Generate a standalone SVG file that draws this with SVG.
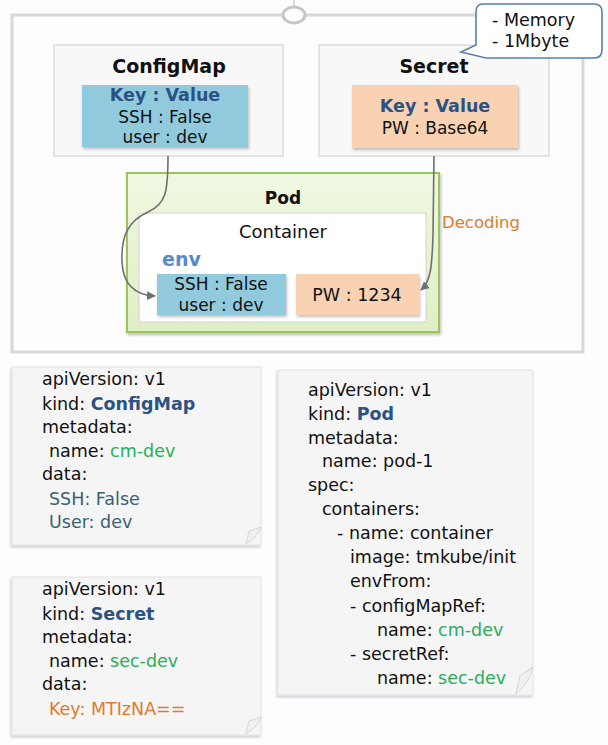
<svg xmlns="http://www.w3.org/2000/svg" width="608" height="745" viewBox="0 0 608 745">
<defs>
<style>
text{font-family:"DejaVu Sans","Noto Sans",sans-serif;fill:#111}
.t{font-size:19px;font-weight:bold;text-anchor:middle}
.kv{font-size:17.5px;font-weight:bold;fill:#2c5283;text-anchor:middle}
.c{font-size:17px;text-anchor:middle}
.y{font-size:17.5px}
.b{font-weight:bold;fill:#2c5283}
.g{fill:#2aae5a}
.tl{fill:#3a6272}
.o{fill:#e07a2c}
.panel{fill:#f8f8f9;stroke:#d4d4d6;stroke-width:1.2}
.blue{fill:#91cadc}
.peach{fill:#f9d1b3}
.note{fill:#f5f5f6;stroke:#e2e2e4;stroke-width:1}
.fold{fill:#f0f0f0;stroke:#cfcfd0;stroke-width:0.8}
.conn{fill:none;stroke:#6f6f6f;stroke-width:1.6;marker-end:url(#ah)}
</style>
<marker id="ah" viewBox="0 0 10 10" refX="9" refY="5" markerWidth="5.5" markerHeight="5.5" orient="auto"><path d="M0,0 L10,5 L0,10 z" fill="#6f6f6f"/></marker>
<filter id="sh" x="-10%" y="-10%" width="130%" height="130%"><feDropShadow dx="1" dy="2" stdDeviation="1.5" flood-color="#000" flood-opacity="0.25"/></filter>
<filter id="nsh" x="-10%" y="-10%" width="130%" height="130%"><feDropShadow dx="-1" dy="2" stdDeviation="1.2" flood-color="#000" flood-opacity="0.18"/></filter>
<linearGradient id="pg" x1="0" y1="0" x2="0" y2="1"><stop offset="0" stop-color="#f0f8e2"/><stop offset="1" stop-color="#dfefc4"/></linearGradient>
</defs>
<rect width="608" height="745" fill="#fdfcfe"/>

<g id="frame">
<line x1="294" y1="0" x2="294" y2="7" stroke="#b8b8b8" stroke-width="1"/>
<rect x="12" y="15" width="571" height="337" fill="none" stroke="#d8d8d8" stroke-width="3"/>
<ellipse cx="294" cy="15" rx="11" ry="8" fill="#fdfcfe" stroke="#c6c6c6" stroke-width="3"/>
</g>

<g id="configmap">
<rect class="panel" x="54" y="45" width="229" height="111"/>
<text class="t" x="169" y="73">ConfigMap</text>
<rect class="blue" x="82" y="85" width="166" height="62" filter="url(#sh)"/>
<text class="kv" x="165" y="101">Key : Value</text>
<text class="c" x="165" y="123">SSH : False</text>
<text class="c" x="165" y="143">user : dev</text>
</g>

<g id="secret">
<rect class="panel" x="319" y="45" width="230" height="111"/>
<text class="t" x="434" y="73">Secret</text>
<rect class="peach" x="352" y="85" width="166" height="63" filter="url(#sh)"/>
<text class="kv" x="435" y="112">Key : Value</text>
<text class="c" x="435" y="134">PW : Base64</text>
</g>

<g id="callout">
<path d="M483,4 H594 Q602,4 602,12 V50 Q602,58 594,58 H486 L461,52 L476,45 V12 Q476,4 483,4 Z" fill="#ffffff" stroke="#5b7fa8" stroke-width="1.6"/>
<text x="492" y="26" style="font-size:17.5px">- Memory</text>
<text x="492" y="47" style="font-size:17.5px">- 1Mbyte</text>
</g>

<g id="pod">
<rect x="127" y="173" width="312" height="159" fill="url(#pg)" stroke="#9cc45c" stroke-width="2" filter="url(#sh)"/>
<text x="283" y="204" style="font-size:17px;font-weight:bold;text-anchor:middle">Pod</text>
<rect x="139" y="213" width="287" height="109" fill="#ffffff" stroke="#d2d2d2" stroke-width="1"/>
<text x="283" y="238" style="font-size:18px;text-anchor:middle">Container</text>
<text x="162" y="266" style="font-size:19px;font-weight:bold;fill:#5a8ac6">env</text>
<rect class="blue" x="157" y="274" width="129" height="41" filter="url(#sh)"/>
<text class="c" x="221" y="290">SSH : False</text>
<text class="c" x="221" y="311">user : dev</text>
<rect class="peach" x="296" y="274" width="123" height="41" filter="url(#sh)"/>
<text x="357" y="301" style="font-size:17.5px;text-anchor:middle">PW : 1234</text>
</g>

<g id="decoding">
<text x="442" y="228" style="font-size:16.5px;fill:#e07a2c">Decoding</text>
</g>

<g id="connectors">
<path class="conn" d="M168,156 C168,192 166,204 148,212 C128,221 121,236 122,262 C123,284 134,295 155,296"/>
<path class="conn" d="M434,156 L433,235 C432,266 431,281 421,290"/>
</g>

<g id="note-configmap">
<rect class="note" x="12" y="367" width="249" height="178" filter="url(#nsh)"/>
<path class="fold" d="M261,527 C254,530 248,534 246,544 C252,540 258,535 261,527 Z"/>
<path class="fold" d="M246,544 L249,531 L261,527"/>
<text class="y" x="42" y="385">apiVersion: v1</text>
<text class="y" x="42" y="410">kind: <tspan class="b">ConfigMap</tspan></text>
<text class="y" x="42" y="433">metadata:</text>
<text class="y" x="49" y="457">name: <tspan class="g">cm-dev</tspan></text>
<text class="y" x="42" y="480">data:</text>
<text class="y tl" x="49" y="505">SSH: False</text>
<text class="y tl" x="49" y="528">User: dev</text>
</g>

<g id="note-secret">
<rect class="note" x="12" y="577" width="249" height="158" filter="url(#nsh)"/>
<path class="fold" d="M261,717 C254,720 248,724 246,734 C252,730 258,725 261,717 Z"/>
<path class="fold" d="M246,734 L249,721 L261,717"/>
<text class="y" x="42" y="595">apiVersion: v1</text>
<text class="y" x="42" y="620">kind: <tspan class="b">Secret</tspan></text>
<text class="y" x="42" y="643">metadata:</text>
<text class="y" x="49" y="667">name: <tspan class="g">sec-dev</tspan></text>
<text class="y" x="42" y="690">data:</text>
<text class="y o" x="49" y="715">Key: MTIzNA==</text>
</g>

<g id="note-pod">
<rect class="note" x="278" y="370" width="255" height="325" filter="url(#nsh)"/>
<path class="fold" d="M533,667 C525,671 518,680 516,694 C523,688 530,680 533,667 Z"/>
<path class="fold" d="M516,694 L520,676 L533,667"/>
<text class="y" x="308" y="396">apiVersion: v1</text>
<text class="y" x="308" y="420">kind: <tspan class="b">Pod</tspan></text>
<text class="y" x="308" y="444">metadata:</text>
<text class="y" x="322" y="467">name: pod-1</text>
<text class="y" x="308" y="491">spec:</text>
<text class="y" x="322" y="515">containers:</text>
<text class="y" x="337" y="539">- name: container</text>
<text class="y" x="350" y="563">image: tmkube/init</text>
<text class="y" x="350" y="587">envFrom:</text>
<text class="y" x="350" y="612">- configMapRef:</text>
<text class="y" x="377" y="636">name: <tspan class="g">cm-dev</tspan></text>
<text class="y" x="350" y="660">- secretRef:</text>
<text class="y" x="377" y="684">name: <tspan class="g">sec-dev</tspan></text>
</g>
</svg>
